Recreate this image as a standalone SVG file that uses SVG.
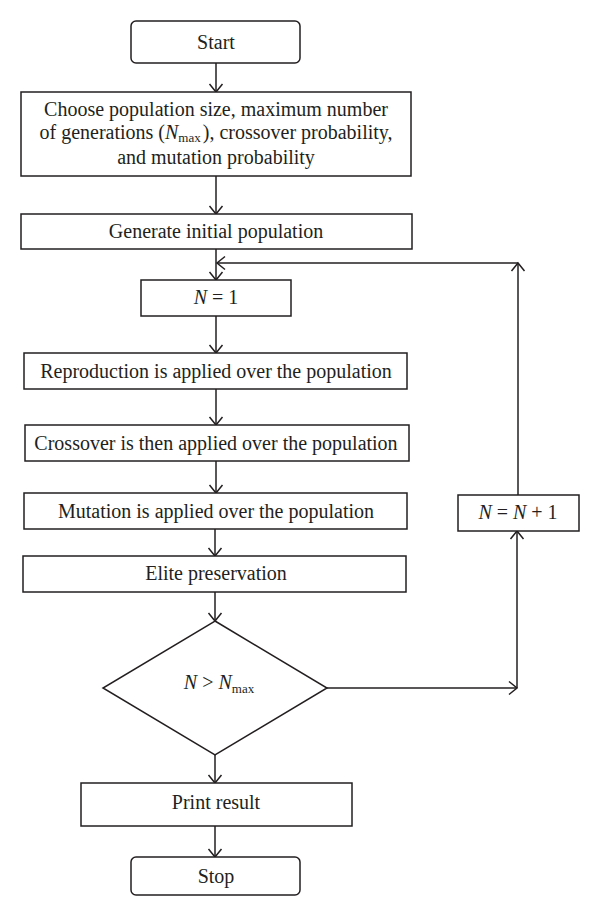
<svg xmlns="http://www.w3.org/2000/svg" width="600" height="916" viewBox="0 0 600 916">
<style>
.box{fill:#fff;stroke:#231f20;stroke-width:1.5}
.ln{fill:none;stroke:#231f20;stroke-width:1.5}
text{font-family:"Liberation Serif","Times New Roman",serif;font-size:20px;fill:#231f20;text-anchor:middle}
.it{font-style:italic}
.sub{font-size:13px}
</style>
<defs>
<marker id="ah" markerUnits="userSpaceOnUse" markerWidth="20" markerHeight="20" viewBox="-10 -10 20 20" refX="0" refY="0" orient="auto">
<path d="M-8,-6.5 L0,0 L-8,6.5" fill="none" stroke="#231f20" stroke-width="1.5"/>
</marker>
</defs>
<rect width="600" height="916" fill="#fff"/>
<g id="connectors">
<line class="ln" x1="216" y1="63" x2="216" y2="92" marker-end="url(#ah)"/>
<line class="ln" x1="216" y1="176" x2="216" y2="214" marker-end="url(#ah)"/>
<line class="ln" x1="216" y1="249" x2="216" y2="280" marker-end="url(#ah)"/>
<line class="ln" x1="518" y1="495" x2="518" y2="263" marker-end="url(#ah)"/>
<line class="ln" x1="518" y1="263" x2="217" y2="263" marker-end="url(#ah)"/>
<line class="ln" x1="216" y1="316" x2="216" y2="353" marker-end="url(#ah)"/>
<line class="ln" x1="216" y1="389" x2="216" y2="425" marker-end="url(#ah)"/>
<line class="ln" x1="216" y1="461" x2="216" y2="493" marker-end="url(#ah)"/>
<line class="ln" x1="215" y1="529" x2="215" y2="556" marker-end="url(#ah)"/>
<line class="ln" x1="215" y1="592" x2="215" y2="621" marker-end="url(#ah)"/>
<line class="ln" x1="327" y1="688" x2="517" y2="688" marker-end="url(#ah)"/>
<line class="ln" x1="517" y1="688" x2="517" y2="531" marker-end="url(#ah)"/>
<line class="ln" x1="215" y1="755" x2="215" y2="783" marker-end="url(#ah)"/>
<line class="ln" x1="215" y1="826" x2="215" y2="857" marker-end="url(#ah)"/>
</g>
<g id="start">
<rect class="box" x="131" y="21" width="169" height="42" rx="5"/>
<text x="216" y="49">Start</text>
</g>
<g id="choose">
<rect class="box" x="21" y="92" width="390" height="84"/>
<text x="216" y="116">Choose population size, maximum number</text>
<text x="216" y="139">of generations (<tspan class="it">N</tspan><tspan class="sub" dy="3">max</tspan><tspan dy="-3" dx="2">), crossover probability,</tspan></text>
<text x="216" y="164">and mutation probability</text>
</g>
<g id="generate">
<rect class="box" x="21" y="214" width="391" height="35"/>
<text x="216" y="238">Generate initial population</text>
</g>
<g id="n1">
<rect class="box" x="141" y="280" width="150" height="36"/>
<text x="216" y="304"><tspan class="it">N</tspan> = 1</text>
</g>
<g id="reproduction">
<rect class="box" x="24" y="353" width="383" height="36"/>
<text x="216" y="378">Reproduction is applied over the population</text>
</g>
<g id="crossover">
<rect class="box" x="25" y="425" width="384" height="36"/>
<text x="216" y="450">Crossover is then applied over the population</text>
</g>
<g id="mutation">
<rect class="box" x="24" y="493" width="383" height="36"/>
<text x="216" y="518">Mutation is applied over the population</text>
</g>
<g id="elite">
<rect class="box" x="23" y="556" width="383" height="36"/>
<text x="216" y="580">Elite preservation</text>
</g>
<g id="decision">
<polygon class="box" points="215,621 327,688 215,755 103,688"/>
<text x="219" y="689"><tspan class="it">N</tspan> &gt; <tspan class="it">N</tspan><tspan class="sub" dy="4">max</tspan></text>
</g>
<g id="increment">
<rect class="box" x="458" y="495" width="121" height="36"/>
<text x="518" y="519"><tspan class="it">N</tspan> = <tspan class="it">N</tspan> + 1</text>
</g>
<g id="print">
<rect class="box" x="81" y="783" width="271" height="43"/>
<text x="216" y="809">Print result</text>
</g>
<g id="stop">
<rect class="box" x="131" y="857" width="169" height="38" rx="5"/>
<text x="216" y="883">Stop</text>
</g>
</svg>
